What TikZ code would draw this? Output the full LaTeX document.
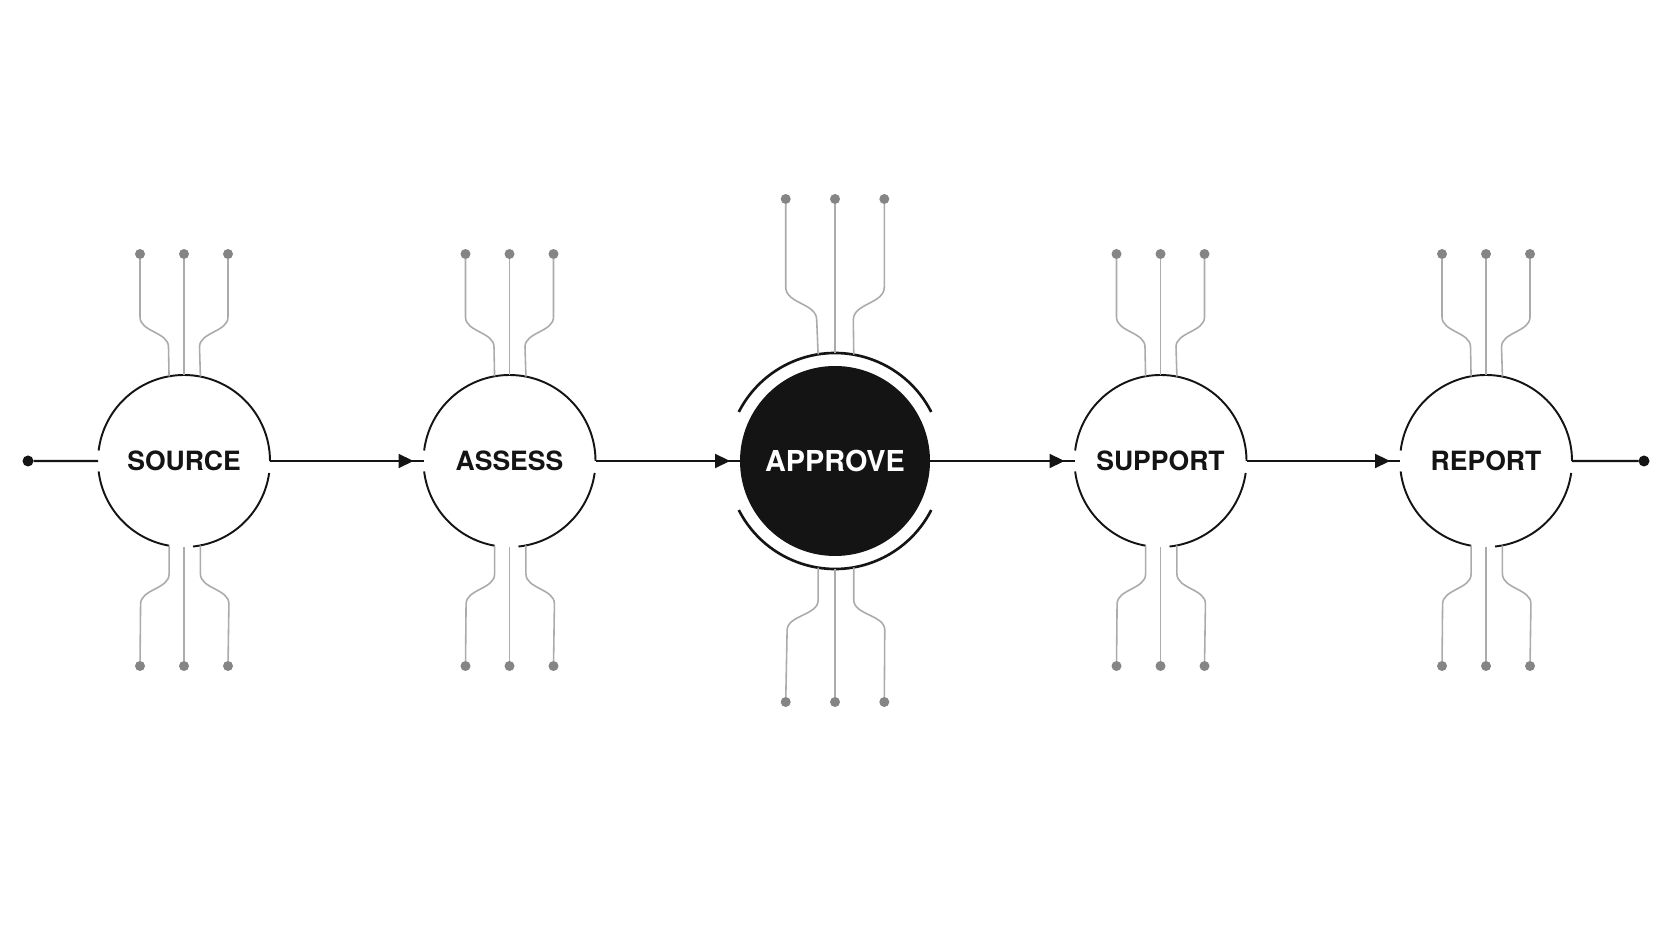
\documentclass[tikz,border=0pt]{standalone}
\usepackage{fontspec}
\setmainfont{TeX Gyre Heros}
\usetikzlibrary{arrows.meta}
\usetikzlibrary{decorations.markings}
\definecolor{ink}{HTML}{141414}
\definecolor{wiregray}{HTML}{ABABAB}
\definecolor{pingray}{HTML}{858585}

\tikzset{
stage/.style={circle, inner sep=0pt, outer sep=0pt, minimum size=1.72cm, font=\fontsize{7.55}{9}\selectfont\bfseries, text=ink},
hub/.style={circle, inner sep=0pt, outer sep=0pt, minimum size=1.90cm, fill=ink, font=\fontsize{8.2}{10}\selectfont\bfseries, text=white},
halo/.style={circle, inner sep=0pt, outer sep=0pt, minimum size=2.16cm},
rim/.style={ink, line width=0.55pt},
ring/.style={ink, line width=0.75pt},
lead/.style={wiregray, line width=0.45pt},
pin/.style={circle, fill=pingray, inner sep=0pt, outer sep=0pt, minimum size=0.1cm},
endpt/.style={circle, fill=ink, inner sep=0pt, outer sep=0pt, minimum size=0.11cm},
flow/.style={ink, line width=0.6pt},
feed/.style={flow, postaction={decorate}, decoration={markings, mark=at position -0.1cm with {\arrow{Triangle[length=0.15cm, width=0.14cm]}}}}
}

\begin{document}
\begin{tikzpicture}

\fill[white] (0,0) rectangle (16.72,9.41);
\useasboundingbox (0,0) rectangle (16.72,9.41);

\begin{scope}[xshift=1.84cm, yshift=4.80cm]
{
\node[stage] (src) at (0,0) {SOURCE};
\draw[rim] (src.0) arc[start angle=0, end angle=173, radius=0.86cm] (src.187) arc[start angle=187, end angle=260, radius=0.86cm] (src.276) arc[start angle=276, end angle=352, radius=0.86cm];

\node[pin] (srcT1) at (-0.44,2.07) {};
\node[pin] (srcT2) at (0,2.07) {};
\node[pin] (srcT3) at (0.44,2.07) {};
\node[pin] (srcB1) at (-0.44,-2.05) {};
\node[pin] (srcB2) at (0,-2.05) {};
\node[pin] (srcB3) at (0.44,-2.05) {};

\draw[lead] (srcT1) -- ++(0,-0.63) .. controls +(0,-0.15) and +(0,0.15) .. ++(0.285,-0.30) -- (src.100.4);
\draw[lead] (srcT2) -- (src.north);
\draw[lead] (srcT3) -- ++(0,-0.63) .. controls +(0,-0.15) and +(0,0.15) .. ++(-0.285,-0.30) -- (src.79.6);
\draw[lead] (src.-100.4) -- ++(0,-0.284) .. controls +(0,-0.15) and +(0,0.15) .. ++(-0.285,-0.30) -- (srcB1);
\draw[lead] (src.south) -- (srcB2);
\draw[lead] (src.-79.6) -- ++(0,-0.284) .. controls +(0,-0.15) and +(0,0.15) .. ++(0.285,-0.30) -- (srcB3);
}
\end{scope}

\begin{scope}[xshift=5.095cm, yshift=4.80cm]
{
\node[stage] (asm) at (0,0) {ASSESS};
\draw[rim] (asm.0) arc[start angle=0, end angle=173, radius=0.86cm] (asm.187) arc[start angle=187, end angle=260, radius=0.86cm] (asm.276) arc[start angle=276, end angle=352, radius=0.86cm];

\node[pin] (asmT1) at (-0.44,2.07) {};
\node[pin] (asmT2) at (0,2.07) {};
\node[pin] (asmT3) at (0.44,2.07) {};
\node[pin] (asmB1) at (-0.44,-2.05) {};
\node[pin] (asmB2) at (0,-2.05) {};
\node[pin] (asmB3) at (0.44,-2.05) {};

\draw[lead] (asmT1) -- ++(0,-0.63) .. controls +(0,-0.15) and +(0,0.15) .. ++(0.285,-0.30) -- (asm.100.4);
\draw[lead] (asmT2) -- (asm.north);
\draw[lead] (asmT3) -- ++(0,-0.63) .. controls +(0,-0.15) and +(0,0.15) .. ++(-0.285,-0.30) -- (asm.79.6);
\draw[lead] (asm.-100.4) -- ++(0,-0.284) .. controls +(0,-0.15) and +(0,0.15) .. ++(-0.285,-0.30) -- (asmB1);
\draw[lead] (asm.south) -- (asmB2);
\draw[lead] (asm.-79.6) -- ++(0,-0.284) .. controls +(0,-0.15) and +(0,0.15) .. ++(0.285,-0.30) -- (asmB3);
}
\end{scope}

\begin{scope}[xshift=8.35cm, yshift=4.80cm]
{
\node[halo] (apvH) at (0,0) {};
\node[hub] (apv) at (0,0) {APPROVE};
\draw[ring] (apvH.27) arc[start angle=27, end angle=153, radius=1.08cm] (apvH.207) arc[start angle=207, end angle=333, radius=1.08cm];

\node[pin] (apvT1) at (-0.493,2.62) {};
\node[pin] (apvT2) at (0,2.62) {};
\node[pin] (apvT3) at (0.493,2.62) {};
\node[pin] (apvB1) at (-0.493,-2.41) {};
\node[pin] (apvB2) at (0,-2.41) {};
\node[pin] (apvB3) at (0.493,-2.41) {};

\draw[lead] (apvT1) -- ++(0,-0.88) .. controls +(0,-0.17) and +(0,0.17) .. ++(0.31,-0.33) -- (apvH.99.75);
\draw[lead] (apvT2) -- (apvH.north);
\draw[lead] (apvT3) -- ++(0,-0.88) .. controls +(0,-0.17) and +(0,0.17) .. ++(-0.31,-0.33) -- (apvH.80.25);
\draw[lead] (apvH.-99.75) -- ++(0,-0.326) .. controls +(0,-0.15) and +(0,0.15) .. ++(-0.31,-0.30) -- (apvB1);
\draw[lead] (apvH.south) -- (apvB2);
\draw[lead] (apvH.-80.25) -- ++(0,-0.326) .. controls +(0,-0.15) and +(0,0.15) .. ++(0.31,-0.30) -- (apvB3);
}
\end{scope}

\begin{scope}[xshift=11.605cm, yshift=4.80cm]
{
\node[stage] (sup) at (0,0) {SUPPORT};
\draw[rim] (sup.0) arc[start angle=0, end angle=173, radius=0.86cm] (sup.187) arc[start angle=187, end angle=260, radius=0.86cm] (sup.276) arc[start angle=276, end angle=352, radius=0.86cm];

\node[pin] (supT1) at (-0.44,2.07) {};
\node[pin] (supT2) at (0,2.07) {};
\node[pin] (supT3) at (0.44,2.07) {};
\node[pin] (supB1) at (-0.44,-2.05) {};
\node[pin] (supB2) at (0,-2.05) {};
\node[pin] (supB3) at (0.44,-2.05) {};

\draw[lead] (supT1) -- ++(0,-0.63) .. controls +(0,-0.15) and +(0,0.15) .. ++(0.285,-0.30) -- (sup.100.4);
\draw[lead] (supT2) -- (sup.north);
\draw[lead] (supT3) -- ++(0,-0.63) .. controls +(0,-0.15) and +(0,0.15) .. ++(-0.285,-0.30) -- (sup.79.6);
\draw[lead] (sup.-100.4) -- ++(0,-0.284) .. controls +(0,-0.15) and +(0,0.15) .. ++(-0.285,-0.30) -- (supB1);
\draw[lead] (sup.south) -- (supB2);
\draw[lead] (sup.-79.6) -- ++(0,-0.284) .. controls +(0,-0.15) and +(0,0.15) .. ++(0.285,-0.30) -- (supB3);
}
\end{scope}

\begin{scope}[xshift=14.86cm, yshift=4.80cm]
{
\node[stage] (rep) at (0,0) {REPORT};
\draw[rim] (rep.0) arc[start angle=0, end angle=173, radius=0.86cm] (rep.187) arc[start angle=187, end angle=260, radius=0.86cm] (rep.276) arc[start angle=276, end angle=352, radius=0.86cm];

\node[pin] (repT1) at (-0.44,2.07) {};
\node[pin] (repT2) at (0,2.07) {};
\node[pin] (repT3) at (0.44,2.07) {};
\node[pin] (repB1) at (-0.44,-2.05) {};
\node[pin] (repB2) at (0,-2.05) {};
\node[pin] (repB3) at (0.44,-2.05) {};

\draw[lead] (repT1) -- ++(0,-0.63) .. controls +(0,-0.15) and +(0,0.15) .. ++(0.285,-0.30) -- (rep.100.4);
\draw[lead] (repT2) -- (rep.north);
\draw[lead] (repT3) -- ++(0,-0.63) .. controls +(0,-0.15) and +(0,0.15) .. ++(-0.285,-0.30) -- (rep.79.6);
\draw[lead] (rep.-100.4) -- ++(0,-0.284) .. controls +(0,-0.15) and +(0,0.15) .. ++(-0.285,-0.30) -- (repB1);
\draw[lead] (rep.south) -- (repB2);
\draw[lead] (rep.-79.6) -- ++(0,-0.284) .. controls +(0,-0.15) and +(0,0.15) .. ++(0.285,-0.30) -- (repB3);
}
\end{scope}

% main line
\node[endpt] (inDot) at (0.28,4.80) {};
\node[endpt] (outDot) at (16.44,4.80) {};

\draw[flow] (inDot) -- (src.west);
\draw[feed] (src.east) -- (asm.west);
\draw[feed] (asm.east) -- (apv.west);
\draw[feed] (apv.east) -- (sup.west);
\draw[feed] (sup.east) -- (rep.west);
\draw[flow] (rep.east) -- (outDot);

\end{tikzpicture}
\end{document}
